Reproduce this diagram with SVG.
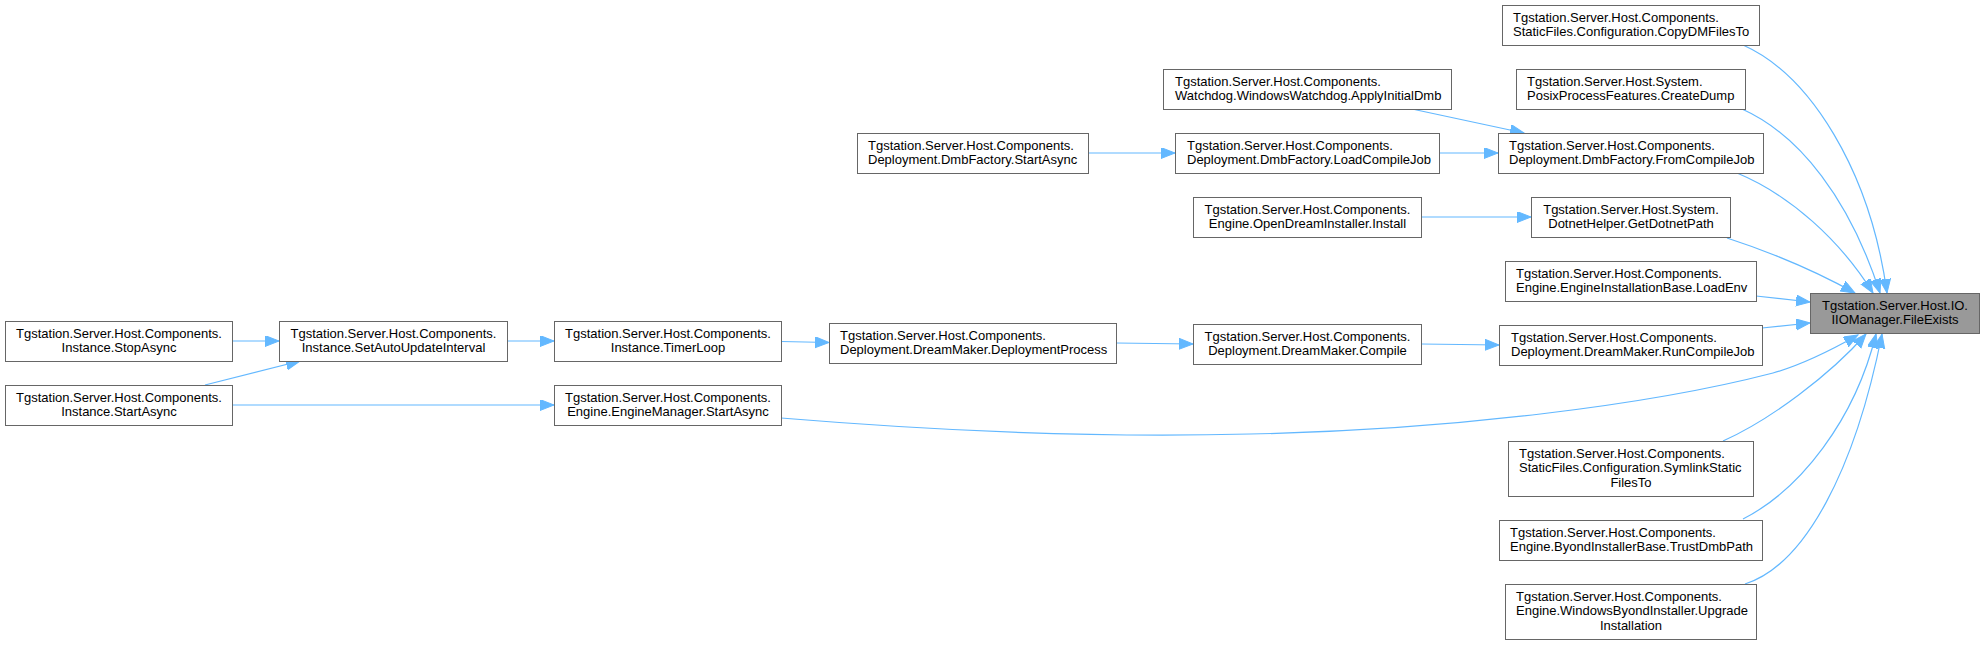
<svg xmlns="http://www.w3.org/2000/svg" width="1984" height="645" viewBox="0 0 1984 645">
<style>
.box{fill:#ffffff;stroke:#666666;stroke-width:1}
.sel{fill:#999999;stroke:#666666;stroke-width:1}
text{font-family:"Liberation Sans",Arial,Helvetica,sans-serif;font-size:13px;fill:#000000}
.c{text-anchor:middle}
.e{fill:none;stroke:#63b8ff;stroke-width:1.2}
</style>
<defs>
<marker id="ah" markerUnits="userSpaceOnUse" markerWidth="16" markerHeight="12" refX="14" refY="5.5" orient="auto">
<path d="M0,0 L14,5.5 L0,11 Z" fill="#63b8ff" stroke="#63b8ff" stroke-width="1"/>
</marker>
</defs>
<rect width="1984" height="645" fill="#ffffff"/>
<g id="edges">
<path class="e" marker-end="url(#ah)" d="M1743,45 C1810,75 1870,170 1887,293"/>
<path class="e" marker-end="url(#ah)" d="M1742,109 C1800,135 1850,200 1880,293"/>
<path class="e" marker-end="url(#ah)" d="M1737,173 C1790,195 1840,240 1873,293"/>
<path class="e" marker-end="url(#ah)" d="M1727,238 C1770,252 1810,268 1855,293"/>
<path class="e" marker-end="url(#ah)" d="M1756,296 L1810,302"/>
<path class="e" marker-end="url(#ah)" d="M1762,328 L1810,323"/>
<path class="e" marker-end="url(#ah)" d="M781,418 C950,432 1100,438 1250,434 C1450,430 1650,405 1773,373 C1805,364 1835,348 1858,335"/>
<path class="e" marker-end="url(#ah)" d="M1723,441 C1770,420 1830,375 1866,334"/>
<path class="e" marker-end="url(#ah)" d="M1743,519 C1800,490 1855,420 1876,334"/>
<path class="e" marker-end="url(#ah)" d="M1745,584 C1805,565 1855,470 1882,334"/>
<path class="e" marker-end="url(#ah)" d="M1412,109 L1524,133"/>
<path class="e" marker-end="url(#ah)" d="M1439,153 L1498,153"/>
<path class="e" marker-end="url(#ah)" d="M1088,153 L1175,153"/>
<path class="e" marker-end="url(#ah)" d="M1421,217 L1531,217"/>
<path class="e" marker-end="url(#ah)" d="M232,341 L279,341"/>
<path class="e" marker-end="url(#ah)" d="M205,385 L300,361"/>
<path class="e" marker-end="url(#ah)" d="M232,405 L554,405"/>
<path class="e" marker-end="url(#ah)" d="M507,341 L554,341"/>
<path class="e" marker-end="url(#ah)" d="M781,341.5 L829,342.5"/>
<path class="e" marker-end="url(#ah)" d="M1116,343 L1193,344"/>
<path class="e" marker-end="url(#ah)" d="M1421,344 L1499,345"/>
</g>
<g id="n0"><rect class="sel" x="1810.5" y="293.5" width="169" height="40"/><text class="c" x="1895" y="309.5">Tgstation.Server.Host.IO.</text><text class="c" x="1895" y="324.2">IIOManager.FileExists</text></g>
<g id="n1"><rect class="box" x="1502.5" y="5.5" width="257" height="40"/><text x="1513" y="21.5">Tgstation.Server.Host.Components.</text><text x="1513" y="36.2">StaticFiles.Configuration.CopyDMFilesTo</text></g>
<g id="n2"><rect class="box" x="1516.5" y="69.5" width="229" height="40"/><text x="1527" y="85.5">Tgstation.Server.Host.System.</text><text x="1527" y="100.2">PosixProcessFeatures.CreateDump</text></g>
<g id="n3"><rect class="box" x="1498.5" y="133.5" width="265" height="40"/><text x="1509" y="149.5">Tgstation.Server.Host.Components.</text><text x="1509" y="164.2">Deployment.DmbFactory.FromCompileJob</text></g>
<g id="n4"><rect class="box" x="1163.5" y="69.5" width="288" height="40"/><text x="1175" y="85.5">Tgstation.Server.Host.Components.</text><text x="1175" y="100.2">Watchdog.WindowsWatchdog.ApplyInitialDmb</text></g>
<g id="n5"><rect class="box" x="1175.5" y="133.5" width="264" height="40"/><text x="1187" y="149.5">Tgstation.Server.Host.Components.</text><text x="1187" y="164.2">Deployment.DmbFactory.LoadCompileJob</text></g>
<g id="n6"><rect class="box" x="857.5" y="133.5" width="231" height="40"/><text x="868" y="149.5">Tgstation.Server.Host.Components.</text><text x="868" y="164.2">Deployment.DmbFactory.StartAsync</text></g>
<g id="n7"><rect class="box" x="1531.5" y="197.5" width="199" height="40"/><text class="c" x="1631" y="213.5">Tgstation.Server.Host.System.</text><text class="c" x="1631" y="228.2">DotnetHelper.GetDotnetPath</text></g>
<g id="n8"><rect class="box" x="1193.5" y="197.5" width="228" height="40"/><text class="c" x="1307.5" y="213.5">Tgstation.Server.Host.Components.</text><text class="c" x="1307.5" y="228.2">Engine.OpenDreamInstaller.Install</text></g>
<g id="n9"><rect class="box" x="1505.5" y="261.5" width="251" height="40"/><text x="1516" y="277.5">Tgstation.Server.Host.Components.</text><text x="1516" y="292.2">Engine.EngineInstallationBase.LoadEnv</text></g>
<g id="n10"><rect class="box" x="1499.5" y="325.5" width="263" height="40"/><text x="1511" y="341.5">Tgstation.Server.Host.Components.</text><text x="1511" y="356.2">Deployment.DreamMaker.RunCompileJob</text></g>
<g id="n11"><rect class="box" x="1193.5" y="324.5" width="228" height="40"/><text class="c" x="1307.5" y="340.5">Tgstation.Server.Host.Components.</text><text class="c" x="1307.5" y="355.2">Deployment.DreamMaker.Compile</text></g>
<g id="n12"><rect class="box" x="829.5" y="323.5" width="287" height="40"/><text x="840" y="339.5">Tgstation.Server.Host.Components.</text><text x="840" y="354.2">Deployment.DreamMaker.DeploymentProcess</text></g>
<g id="n13"><rect class="box" x="554.5" y="321.5" width="227" height="40"/><text class="c" x="668" y="337.5">Tgstation.Server.Host.Components.</text><text class="c" x="668" y="352.2">Instance.TimerLoop</text></g>
<g id="n14"><rect class="box" x="279.5" y="321.5" width="228" height="40"/><text class="c" x="393.5" y="337.5">Tgstation.Server.Host.Components.</text><text class="c" x="393.5" y="352.2">Instance.SetAutoUpdateInterval</text></g>
<g id="n15"><rect class="box" x="5.5" y="321.5" width="227" height="40"/><text class="c" x="119" y="337.5">Tgstation.Server.Host.Components.</text><text class="c" x="119" y="352.2">Instance.StopAsync</text></g>
<g id="n16"><rect class="box" x="5.5" y="385.5" width="227" height="40"/><text class="c" x="119" y="401.5">Tgstation.Server.Host.Components.</text><text class="c" x="119" y="416.2">Instance.StartAsync</text></g>
<g id="n17"><rect class="box" x="554.5" y="385.5" width="227" height="40"/><text class="c" x="668" y="401.5">Tgstation.Server.Host.Components.</text><text class="c" x="668" y="416.2">Engine.EngineManager.StartAsync</text></g>
<g id="n18"><rect class="box" x="1508.5" y="441.5" width="245" height="55"/><text x="1519" y="457.5">Tgstation.Server.Host.Components.</text><text x="1519" y="472.2">StaticFiles.Configuration.SymlinkStatic</text><text class="c" x="1631" y="486.9">FilesTo</text></g>
<g id="n19"><rect class="box" x="1499.5" y="520.5" width="263" height="40"/><text x="1510" y="536.5">Tgstation.Server.Host.Components.</text><text x="1510" y="551.2">Engine.ByondInstallerBase.TrustDmbPath</text></g>
<g id="n20"><rect class="box" x="1505.5" y="584.5" width="251" height="55"/><text x="1516" y="600.5">Tgstation.Server.Host.Components.</text><text x="1516" y="615.2">Engine.WindowsByondInstaller.Upgrade</text><text class="c" x="1631" y="629.9">Installation</text></g>
</svg>
